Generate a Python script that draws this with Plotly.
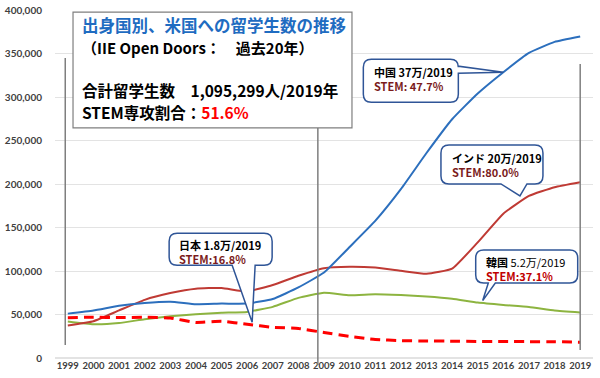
import plotly.graph_objects as go

years = list(range(1999, 2020))
china = [51001, 54466, 59939, 63211, 64757, 61765, 62523, 62582, 67723, 81127, 98235,
         127628, 157558, 194029, 235597, 274439, 304040, 328547, 350755, 363341, 369548]
india = [37482, 42337, 54664, 66836, 74603, 79736, 80466, 76503, 83833, 94563, 103260,
         104897, 103895, 100270, 96754, 102673, 132888, 165918, 186267, 196271, 202014]
korea = [42000, 38800, 40200, 44600, 48000, 50400, 52000, 53000, 58800, 69100, 75065,
         72153, 73351, 72295, 70627, 68047, 63710, 61007, 58663, 54555, 52250]
japan = [46406, 46872, 46497, 46810, 45960, 40835, 42215, 38712, 35282, 33974, 29264,
         24842, 21290, 19966, 19568, 19334, 19064, 19060, 18780, 18753, 18105]
y_ticks = list(range(0, 400001, 50000))

CJK = "Noto Sans CJK JP"

fig = go.Figure()
fig.add_trace(go.Scatter(x=years, y=korea, mode="lines", name="韓国",
                         line=dict(color="#8db440", width=2, shape="spline", smoothing=0.4)))
fig.add_trace(go.Scatter(x=years, y=india, mode="lines", name="インド",
                         line=dict(color="#bf3a34", width=2, shape="spline", smoothing=0.4)))
fig.add_trace(go.Scatter(x=years, y=china, mode="lines", name="中国",
                         line=dict(color="#2c6fbd", width=2, shape="spline", smoothing=0.4)))
fig.add_trace(go.Scatter(x=years, y=japan, mode="lines", name="日本",
                         line=dict(color="#ff0000", width=3, dash="10px,6px", shape="spline", smoothing=0.4)))

shapes = []
# vertical gray marker lines
for xv, y0, y1 in [(1998.9, 0.037, 0.862), (2008.76, -0.02, 0.661), (2019, 0.023, 0.845)]:
    shapes.append(dict(type="line", xref="x", yref="paper", x0=xv, x1=xv, y0=y0, y1=y1,
                       line=dict(color="#7f7f7f", width=1.5), layer="above"))

# title box
shapes.append(dict(type="rect", xref="paper", yref="paper", x0=0.0335, x1=0.552, y0=0.661, y1=0.994,
                   line=dict(color="#7f7f7f", width=1.2), fillcolor="white", layer="above"))


def bubble(x0, x1, yb, yt, tail, r=8):
    # pixel offsets, y positive upward; tail = (edge, base_a, base_b, tipx, tipy)
    edge, a, b, tx, ty = tail
    p = f"M {x0+r},{yt} L {x1-r},{yt} Q {x1},{yt} {x1},{yt-r} "
    if edge == "right":
        hi, lo = max(a, b), min(a, b)
        p += f"L {x1},{hi} L {tx},{ty} L {x1},{lo} "
    p += f"L {x1},{yb+r} Q {x1},{yb} {x1-r},{yb} "
    if edge == "bottom":
        hi, lo = max(a, b), min(a, b)
        p += f"L {hi},{yb} L {tx},{ty} L {lo},{yb} "
    p += f"L {x0+r},{yb} Q {x0},{yb} {x0},{yb+r} L {x0},{yt-r} Q {x0},{yt} {x0+r},{yt} Z"
    return p


callouts = [
    # anchor x, anchor y, path, text offset (dx, dy), text
    (2016, china[17], bubble(-140, -45, -30, 13, ("right", 6, -1, 0, 0)), (-131, -7),
     "<b>中国 37万/2019</b><br><b><span style='color:#7b1c1c'>STEM: 47.7%</span></b>"),
    (2017, india[18], bubble(-88, 14, 12, 51, ("bottom", -28, -2, -9, 0)), (-79, 31.3),
     "<b>インド 20万/2019</b><br><b><span style='color:#7b1c1c'>STEM:80.0%</span></b>"),
    (2006, japan[7], bubble(-78, 25, 59, 91, ("bottom", -15, 8, 5, 2)), (-70, 72.5),
     "<b>日本 1.8万/2019</b><br><b><span style='color:#7b1c1c'>STEM:16.8%</span></b>"),
    (2015, korea[16], bubble(-2, 100, 19.6, 52.6, ("bottom", 10.6, 17.6, 5, 2)), (6.6, 33.3),
     "<b>韓国</b> 5.2万/2019<br><b><span style='color:#c00000'>STEM:37.1%</span></b>"),
]

annotations = []
for ax, ay, path, (dx, dy), txt in callouts:
    shapes.append(dict(type="path", xref="x", yref="y", xsizemode="pixel", ysizemode="pixel",
                       xanchor=ax, yanchor=ay, path=path,
                       line=dict(color="#2f5597", width=1.5), fillcolor="white", layer="above"))
    annotations.append(dict(x=ax, y=ay, xref="x", yref="y", xshift=dx, yshift=dy,
                            xanchor="left", yanchor="middle", align="left", showarrow=False,
                            text=txt, font=dict(family=CJK, size=11, color="#000000")))

title_lines = [
    (0.957, "<b>出身国別、米国への留学生数の推移</b>", 16.5, "#1f6cc1"),
    (0.891, "<b>（IIE Open Doors：　過去20年）</b>", 15, "#000000"),
    (0.770, "<b>合計留学生数　1,095,299人/2019年</b>", 15.5, "#000000"),
    (0.707, "<b>STEM専攻割合：<span style='color:#ff0000'>51.6%</span></b>", 15.5, "#000000"),
]
for yy, txt, sz, col in title_lines:
    annotations.append(dict(x=0.0465, y=yy, xref="paper", yref="paper", xanchor="left",
                            yanchor="middle", showarrow=False, text=txt,
                            font=dict(family=CJK, size=sz, color=col)))

fig.update_layout(
    width=600, height=378,
    margin=dict(l=55, r=7, t=10, b=20),
    paper_bgcolor="white", plot_bgcolor="white",
    showlegend=False,
    shapes=shapes, annotations=annotations,
    xaxis=dict(range=[1998.5, 2019.5], tickvals=years, ticktext=[str(y) for y in years],
               showgrid=False, zeroline=False, showline=False, ticks="", tickangle=0,
               automargin=False,
               tickfont=dict(family="Lato", size=9.5, color="#404040", weight="bold"),
               fixedrange=True),
    yaxis=dict(range=[0, 400000], tickvals=y_ticks, tickformat=",", showgrid=True,
               gridcolor="#e3e3e3", gridwidth=1, zeroline=True, zerolinecolor="#e3e3e3",
               showline=False, ticks="", ticklabelstandoff=12, automargin=False,
               tickfont=dict(family="Lato", size=10, color="#404040", weight="bold")),
)

fig.write_html("out.html", config={"displayModeBar": False},
               post_script="document.body.style.margin='0';document.body.style.overflow='hidden';")
